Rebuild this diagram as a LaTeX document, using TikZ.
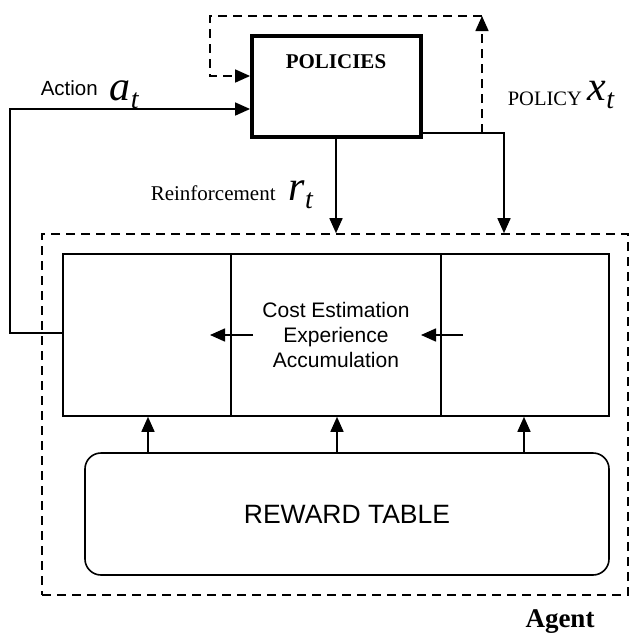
\documentclass[tikz,border=0pt]{standalone}
\usepackage{fontspec}
\setmainfont{Liberation Serif}
\setsansfont{Liberation Sans}
\usetikzlibrary{arrows.meta}

\begin{document}
\begin{tikzpicture}[x=1pt,y=-1pt,line width=1.6pt,
  tip/.style={-{Triangle[length=15pt,width=13pt]}},
  dsh/.style={dash pattern=on 9pt off 6pt},
  cell/.style={draw,rectangle,minimum height=162pt,inner sep=0pt},
  lbl/.style={inner sep=0pt,anchor=base west},
  big/.style={lbl,font=\fontsize{42}{42}\selectfont\itshape}]
\useasboundingbox (0,0) rectangle (630,633);

% agent boundary
\node[draw,dsh,rectangle,minimum width=586pt,minimum height=361pt,inner sep=0pt] (agent) at (335,414.5) {};
\node[inner sep=0pt,anchor=base,font=\fontsize{27}{27}\selectfont\bfseries] (agentlbl) at (560,627) {Agent};

% policies block
\node[draw,rectangle,line width=3.8pt,minimum width=169pt,minimum height=101pt,inner sep=0pt] (pol) at (336.5,86.5) {};
\node[inner sep=0pt,font=\fontsize{21}{21}\selectfont\bfseries] (poltxt) at (336,62) {POLICIES};

% three processing cells
\node[cell,minimum width=168pt] (cl) at (147,335) {};
\node[cell,minimum width=210pt,align=center,font=\fontsize{21}{25}\selectfont\sffamily] (cm) at (336,335) {Cost Estimation\\Experience\\Accumulation};
\node[cell,minimum width=168pt] (cr) at (525,335) {};

% reward table
\node[draw,rectangle,rounded corners=16pt,minimum width=524pt,minimum height=122pt,inner sep=0pt,
      font=\fontsize{26.5}{26.5}\selectfont\sffamily] (rew) at (347,514) {REWARD TABLE};

% labels
\node[lbl,font=\fontsize{20.5}{20.5}\selectfont\sffamily] (actlbl) at (40,95) {Action};
\node[big] (at) at (109,100) {a\raisebox{-8pt}{\fontsize{28}{28}\selectfont t}};
\node[lbl,font=\fontsize{20.5}{20.5}\selectfont] (pollbl) at (507,105) {POLICY};
\node[big] (xt) at (587,100) {x\raisebox{-8pt}{\fontsize{28}{28}\selectfont t}};
\node[lbl,font=\fontsize{21}{21}\selectfont] (reinlbl) at (150,200) {Reinforcement};
\node[big] (rt) at (288,200) {r\raisebox{-8pt}{\fontsize{28}{28}\selectfont t}};

% routing points
\coordinate (actin) at (cl.west |- 0,333);
\coordinate (actL) at (10,333);
\coordinate (actT) at (10,109);
\coordinate (polout) at (pol.east |- 0,133);
\coordinate (polR) at (504,133);
\coordinate (loopB) at (482,133);
\coordinate (loopTR) at (482,16);
\coordinate (loopTL) at (210,16);
\coordinate (loopL) at (210,76);
\coordinate (mfrom) at (253,335);
\coordinate (mto) at (210,335);
\coordinate (rfrom) at (463,335);
\coordinate (rto) at (421,335);

% action feedback into the policies
\draw[tip] (actin) -- (actL) -- (actT) -- (pol.west |- actT);
% dashed self loop
\draw[dsh,tip] (loopB) -- (loopTR);
\draw[dsh,tip] (loopTR) -- (loopTL) -- (loopL) -- (pol.west |- loopL);
% reinforcement and policy outputs into the agent
\draw[tip] (pol.south -| cm.north) -- (cm.north |- agent.north);
\draw[tip] (polout) -- (polR) -- (polR |- agent.north);

% flow between cells
\draw[tip] (mfrom) -- (mto);
\draw[tip] (rfrom) -- (rto);

% reward table feeding each cell
\foreach \c/\x in {cl/148,cm/337,cr/524}
  \draw[tip] (rew.north -| \x,0) -- (\c.south -| \x,0);
\end{tikzpicture}
\end{document}
